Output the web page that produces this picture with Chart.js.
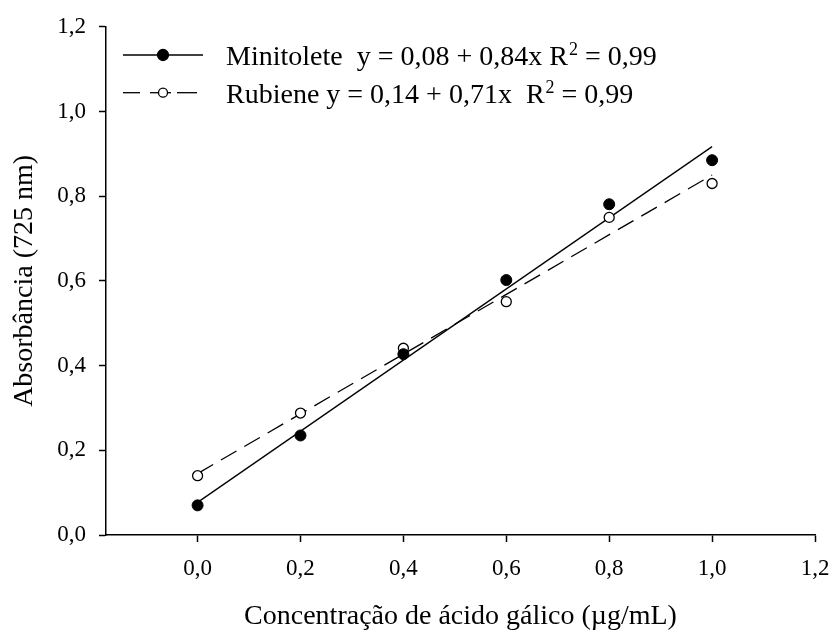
<!DOCTYPE html>
<html>
<head>
<meta charset="utf-8">
<script src="https://cdn.jsdelivr.net/npm/chart.js@4.4.1/dist/chart.umd.min.js"></script>
<style>
  html, body { margin: 0; padding: 0; background: #fff; }
  #wrap { width: 830px; height: 632px; }
</style>
</head>
<body>
<div id="wrap"><canvas id="grafico"></canvas></div>
<script>
// valores
const concentracao = [0.0, 0.2, 0.4, 0.6, 0.8, 1.0];
const minitolete = [0.07, 0.235, 0.427, 0.602, 0.781, 0.885];
const rubiene = [0.14, 0.288, 0.441, 0.551, 0.75, 0.83];

// extremos das retas de regressão (x = 0 e x = 1)
const retaX = [0.0, 1.0];
const retaMinitolete = [0.077, 0.917];
const retaRubiene = [0.145, 0.85];

const ticksX = [0.0, 0.2, 0.4, 0.6, 0.8, 1.0, 1.2];
const ticksY = [0.0, 0.2, 0.4, 0.6, 0.8, 1.0, 1.2];

// texto da legenda: antes do expoente, expoente, depois
const legendas = [
  ['Minitolete  y = 0,08 + 0,84x R', '2', ' = 0,99'],
  ['Rubiene y = 0,14 + 0,71x  R', '2', ' = 0,99']
];

const fonte = 'Liberation Serif, Times New Roman, serif';

function pares(xs, ys) {
  return xs.map((x, i) => ({ x: x, y: ys[i] }));
}

function virgula(v) {
  return Number(v).toFixed(1).replace('.', ',');
}

// legenda desenhada à mão (linha com marcador no meio)
const legendaPlugin = {
  id: 'legendaManual',
  afterDraw(chart) {
    const ctx = chart.ctx;
    const linhas = [
      { y: 55, trechos: [[123, 203]], fill: '#000', r: 5.5 },
      { y: 92.7, trechos: [[123, 140], [150, 171], [177, 197]], fill: '#fff', r: 4.5 }
    ];
    ctx.save();
    linhas.forEach((l, i) => {
      ctx.strokeStyle = '#000';
      ctx.lineWidth = 1.3;
      l.trechos.forEach(t => {
        ctx.beginPath();
        ctx.moveTo(t[0], l.y);
        ctx.lineTo(t[1], l.y);
        ctx.stroke();
      });
      ctx.beginPath();
      ctx.arc(163, l.y, l.r, 0, Math.PI * 2);
      ctx.fillStyle = l.fill;
      ctx.fill();
      ctx.stroke();

      const [antes, expo, depois] = legendas[i];
      const base = l.y + 10;
      let x = 226;
      ctx.fillStyle = '#000';
      ctx.textBaseline = 'alphabetic';
      ctx.textAlign = 'left';
      ctx.font = '28px ' + fonte;
      ctx.fillText(antes, x, base);
      x += ctx.measureText(antes).width + 1;
      ctx.font = '18px ' + fonte;
      ctx.fillText(expo, x, base - 10);
      x += ctx.measureText(expo).width;
      ctx.font = '28px ' + fonte;
      ctx.fillText(depois, x, base);
    });
    ctx.restore();
  }
};

new Chart(document.getElementById('grafico'), {
  type: 'scatter',
  data: {
    datasets: [
      {
        label: 'Minitolete',
        data: pares(concentracao, minitolete),
        showLine: false,
        pointRadius: 5.5,
        pointBackgroundColor: '#000',
        pointBorderColor: '#000',
        pointBorderWidth: 1,
        order: 1
      },
      {
        label: 'Rubiene',
        data: pares(concentracao, rubiene),
        showLine: false,
        pointRadius: 5,
        pointBackgroundColor: '#fff',
        pointBorderColor: '#000',
        pointBorderWidth: 1.3,
        order: 2
      },
      {
        label: 'Reta Minitolete',
        data: pares(retaX, retaMinitolete),
        showLine: true,
        pointRadius: 0,
        borderColor: '#000',
        borderWidth: 1.3,
        order: 3
      },
      {
        label: 'Reta Rubiene',
        data: pares(retaX, retaRubiene),
        showLine: true,
        pointRadius: 0,
        borderColor: '#000',
        borderWidth: 1.3,
        borderDash: [18, 9],
        order: 4
      }
    ]
  },
  options: {
    responsive: true,
    maintainAspectRatio: false,
    animation: false,
    layout: { padding: { left: 0, right: 15, top: 25, bottom: 0 } },
    plugins: {
      legend: { display: false },
      tooltip: { enabled: false }
    },
    scales: {
      x: {
        type: 'linear',
        min: -0.178,
        max: 1.2,
        afterBuildTicks: (scale) => { scale.ticks = ticksX.map(v => ({ value: v })); },
        afterFit: (scale) => {
          scale.height = 97;
          scale.paddingLeft = 0;
          scale.paddingRight = 14;
        },
        border: { display: true, color: '#000', width: 1.5 },
        grid: { drawOnChartArea: false, drawTicks: true, tickLength: 7, tickColor: '#000', tickWidth: 1.5 },
        ticks: {
          color: '#000',
          padding: 13,
          font: { family: fonte, size: 23 },
          callback: (v) => virgula(v)
        },
        title: {
          display: true,
          text: 'Concentração de ácido gálico (µg/mL)',
          color: '#000',
          font: { family: fonte, size: 28, lineHeight: 1 },
          padding: { top: 0, bottom: 1 }
        }
      },
      y: {
        type: 'linear',
        min: 0,
        max: 1.2,
        afterBuildTicks: (scale) => { scale.ticks = ticksY.map(v => ({ value: v })); },
        afterFit: (scale) => { scale.width = 106; },
        border: { display: true, color: '#000', width: 1.5 },
        grid: { drawOnChartArea: false, drawTicks: true, tickLength: 7, tickColor: '#000', tickWidth: 1.5 },
        ticks: {
          color: '#000',
          padding: 13,
          font: { family: fonte, size: 23 },
          callback: (v) => virgula(v)
        },
        title: {
          display: true,
          text: 'Absorbância (725 nm)',
          color: '#000',
          font: { family: fonte, size: 28, lineHeight: 1 },
          padding: { top: 11, bottom: 0 }
        }
      }
    }
  },
  plugins: [legendaPlugin]
});
</script>
</body>
</html>
